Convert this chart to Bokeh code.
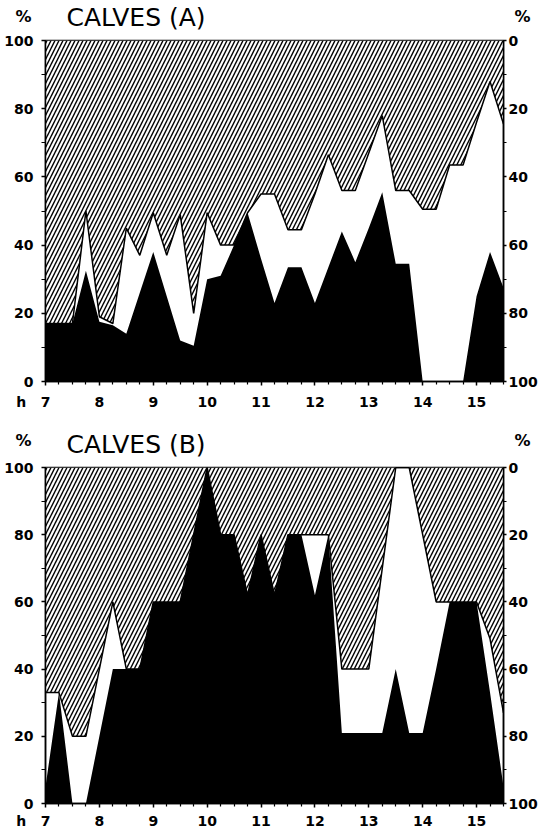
from bokeh.plotting import figure
from bokeh.models import Range1d, LinearAxis, FixedTicker, Label, ColumnDataSource
from bokeh.layouts import column
from bokeh.embed import file_html
from bokeh.resources import INLINE

# time of day (hours), quarter-hour samples
hours = [7.0, 7.25, 7.5, 7.75, 8.0, 8.25, 8.5, 8.75, 9.0, 9.25, 9.5, 9.75,
         10.0, 10.25, 10.5, 10.75, 11.0, 11.25, 11.5, 11.75, 12.0, 12.25,
         12.5, 12.75, 13.0, 13.25, 13.5, 13.75, 14.0, 14.25, 14.5, 14.75,
         15.0, 15.25, 15.5]

# CALVES (A): black area (left scale, from 0) and hatched boundary (hatched above it)
a_black = [17, 17, 17, 32.5, 17.5, 16.5, 14, 26, 38, 25, 12, 10.5,
           30, 31, 40, 49.5, 36, 23, 33.5, 33.5, 23, 33.5,
           44, 35, 45, 55.5, 34.5, 34.5, 0, 0, 0, 0,
           25, 38, 27.5]
a_hatch = [17, 17, 17, 50, 19, 17, 45, 37, 49.5, 37, 49, 20,
           49.5, 40, 40, 49.5, 55, 55, 44.5, 44.5, 55, 66.5,
           56, 56, 67, 78, 56, 56, 50.5, 50.5, 63.5, 63.5,
           76, 88, 75.5]

# CALVES (B)
b_black = [5, 33, 0, 0, 20, 40, 40, 40, 60, 60, 60, 80,
           100, 80, 80, 62, 80, 62, 80, 80, 62, 80,
           21, 21, 21, 21, 40, 21, 21, 40, 60, 60,
           60, 33, 5]
b_hatch = [33, 33, 20, 20, 40, 60, 40, 40, 60, 60, 60, 80,
           100, 80, 80, 62, 80, 62, 80, 80, 80, 80,
           40, 40, 40, 70, 100, 100, 80, 60, 60, 60,
           60, 49, 27]

left_ticks = [0, 20, 40, 60, 80, 100]
left_minor = [10, 30, 50, 70, 90]
hour_ticks = [7, 8, 9, 10, 11, 12, 13, 14, 15]
quarter_ticks = [7.25, 7.5, 7.75, 8.25, 8.5, 8.75, 9.25, 9.5, 9.75, 10.25, 10.5, 10.75,
                 11.25, 11.5, 11.75, 12.25, 12.5, 12.75, 13.25, 13.5, 13.75,
                 14.25, 14.5, 14.75, 15.25, 15.5]
NB = "\u00a0"
hour_labels = {7: "h" + NB * 3 + "7" + NB * 5}

FONT = "DejaVu Sans"
W = 540
BL, BR = 45, 35


def unit_axis(ax, standoff):
    ax.ticker = FixedTicker(ticks=[])
    ax.axis_line_color = None
    ax.major_tick_line_color = None
    ax.minor_tick_line_color = None
    ax.axis_label = "%"
    ax.axis_label_orientation = "horizontal"
    ax.axis_label_standoff = standoff
    ax.axis_label_text_font = FONT
    ax.axis_label_text_font_style = "bold"
    ax.axis_label_text_font_size = "16px"
    ax.axis_label_text_color = "black"


def header(letter, height, y_title):
    h = figure(width=W, height=height, x_range=Range1d(7, 15.5), y_range=Range1d(0, height),
               output_backend="svg", toolbar_location=None, x_axis_location=None,
               min_border_left=BL, min_border_right=BR, min_border_top=0, min_border_bottom=0)
    h.extra_y_ranges = {"right": Range1d(0, height)}
    h.outline_line_color = None
    h.xgrid.visible = False
    h.ygrid.visible = False
    h.background_fill_color = "white"
    h.border_fill_color = "white"
    unit_axis(h.yaxis[0], 14)
    ra = LinearAxis(y_range_name="right")
    unit_axis(ra, 11)
    h.add_layout(ra, "right")
    h.add_layout(Label(x=7, y=y_title, x_offset=21, text="CALVES (%s)" % letter,
                       text_align="left", text_baseline="middle", text_color="black",
                       text_font=FONT, text_font_size="25px"))
    return h


def style_axis(ax):
    ax.axis_line_color = "black"
    ax.axis_line_width = 1.5
    ax.major_tick_line_color = "black"
    ax.major_tick_line_width = 1.5
    ax.minor_tick_line_color = "black"
    ax.minor_tick_line_width = 1.2
    ax.major_label_text_font = FONT
    ax.major_label_text_font_style = "bold"
    ax.major_label_text_font_size = "14px"
    ax.major_label_text_color = "black"


def panel(black, hatch, height, btop, bbottom, x_standoff):
    p = figure(width=W, height=height, x_range=Range1d(7, 15.5), y_range=Range1d(0, 100),
               output_backend="svg", toolbar_location=None,
               min_border_left=BL, min_border_right=BR,
               min_border_top=btop, min_border_bottom=bbottom)
    p.extra_y_ranges = {"right": Range1d(start=100, end=0)}
    p.xgrid.visible = False
    p.ygrid.visible = False
    p.outline_line_color = "black"
    p.outline_line_width = 1.5
    p.background_fill_color = "white"
    p.border_fill_color = "white"

    src = ColumnDataSource(dict(x=hours, black=black, hatch=hatch, top=[100] * len(hours)))
    p.varea(x="x", y1="hatch", y2="top", source=src, fill_color="white",
            hatch_pattern="/", hatch_scale=8, hatch_weight=1.4, hatch_color="black")
    p.varea(x="x", y1=0, y2="black", source=src, fill_color="black")
    p.line(x="x", y="hatch", source=src, line_color="black", line_width=1.5)

    # left axis
    yl = p.yaxis[0]
    yl.ticker = FixedTicker(ticks=left_ticks, minor_ticks=left_minor)
    style_axis(yl)
    yl.major_tick_in = 0
    yl.major_tick_out = 4
    yl.minor_tick_in = 0
    yl.minor_tick_out = 4
    yl.major_label_standoff = 8

    # right axis (inverted scale)
    yr = LinearAxis(y_range_name="right")
    yr.ticker = FixedTicker(ticks=left_ticks, minor_ticks=left_minor)
    style_axis(yr)
    yr.major_tick_in = 0
    yr.major_tick_out = 3
    yr.minor_tick_in = 0
    yr.minor_tick_out = 3
    yr.major_label_standoff = 2
    p.add_layout(yr, "right")

    # bottom axis (hours)
    xb = p.xaxis[0]
    xb.ticker = FixedTicker(ticks=hour_ticks, minor_ticks=quarter_ticks)
    xb.major_label_overrides = hour_labels
    style_axis(xb)
    xb.major_tick_in = 0
    xb.major_tick_out = 4
    xb.minor_tick_in = 0
    xb.minor_tick_out = 3
    xb.major_label_standoff = x_standoff
    return p


ha = header("A", 32, 15)
pa = panel(a_black, a_hatch, 388, 8, 39, 8)
hb = header("B", 39, 15)
pb = panel(b_black, b_hatch, 373, 8, 29, 5)

layout = column(ha, pa, hb, pb, spacing=0)
open("out.html", "w").write(file_html(layout, INLINE))
